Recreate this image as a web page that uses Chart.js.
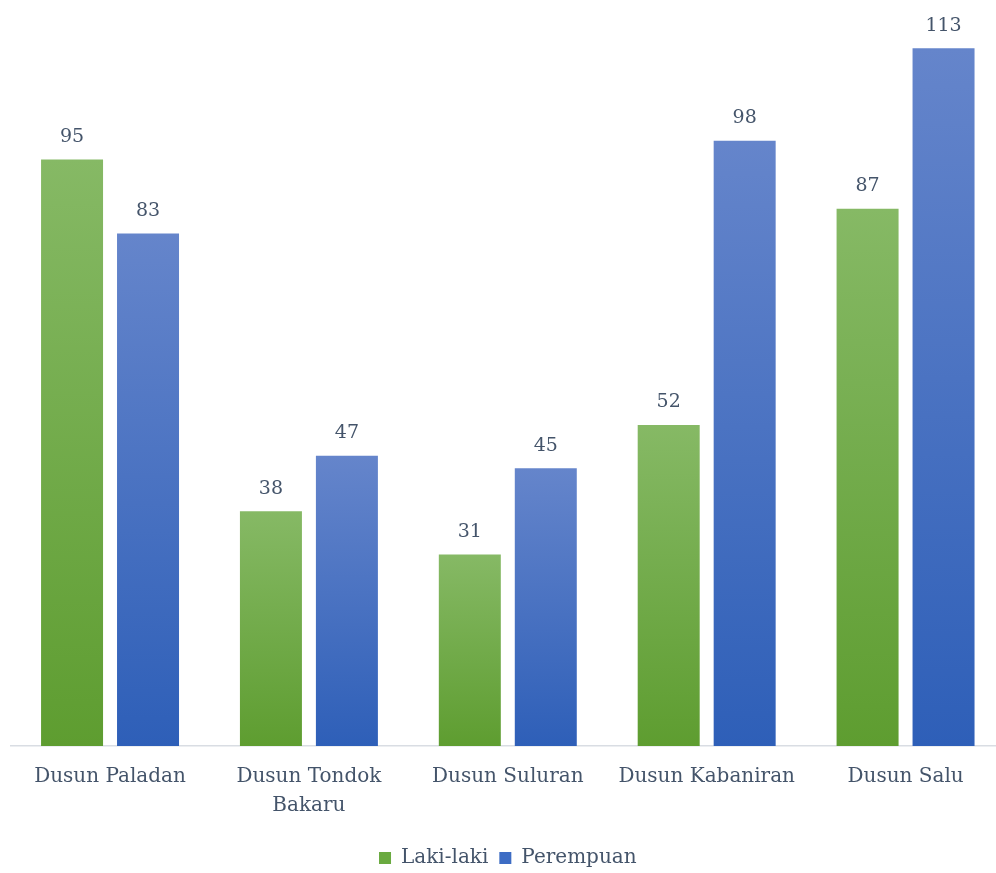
<!DOCTYPE html>
<html>
<head>
<meta charset="utf-8">
<script src="https://cdn.jsdelivr.net/npm/chart.js@4/dist/chart.umd.min.js"></script>
<style>
html,body{margin:0;padding:0;background:#fff;overflow:hidden;}
#wrap{width:996px;height:873px;overflow:hidden;position:relative;}
canvas{display:block;}
</style>
</head>
<body>
<div id="wrap"><canvas id="c" width="1005" height="873"></canvas></div>
<script>
const categories = ["Dusun Paladan", ["Dusun Tondok", "Bakaru"], "Dusun Suluran", "Dusun Kabaniran", "Dusun Salu"];
const seriesNames = ["Laki-laki", "Perempuan"];
const lakiLaki = [95, 38, 31, 52, 87];
const perempuan = [83, 47, 45, 98, 113];

const FONT = "'DejaVu Serif', serif";
const TEXT = "#44546a";

function barGradient(top, bottom) {
  return function(ctx) {
    const chart = ctx.chart;
    const area = chart.chartArea;
    if (!area || ctx.type !== 'data') return bottom;
    const ys = chart.scales.y;
    const yTop = ys.getPixelForValue(ctx.raw);
    const yBase = ys.getPixelForValue(0);
    const g = chart.ctx.createLinearGradient(0, yTop, 0, yBase);
    g.addColorStop(0, top);
    g.addColorStop(1, bottom);
    return g;
  };
}

const valueLabels = {
  id: 'valueLabels',
  afterDatasetsDraw(chart) {
    const c = chart.ctx;
    c.save();
    c.font = "19px " + FONT;
    c.fillStyle = TEXT;
    c.textAlign = 'center';
    c.textBaseline = 'alphabetic';
    chart.data.datasets.forEach((ds, i) => {
      const meta = chart.getDatasetMeta(i);
      meta.data.forEach((el, j) => {
        c.fillText(String(ds.data[j]), el.x, el.y - 17.5);
      });
    });
    c.restore();
  }
};

new Chart(document.getElementById('c'), {
  type: 'bar',
  data: {
    labels: categories,
    datasets: [
      {
        label: seriesNames[0],
        data: lakiLaki,
        backgroundColor: barGradient('#86b965', '#5e9d30'),
        legendColor: '#6aaa40'
      },
      {
        label: seriesNames[1],
        data: perempuan,
        backgroundColor: barGradient('#6585cb', '#2e5fb8'),
        legendColor: '#3d6cc4'
      }
    ]
  },
  options: {
    responsive: false,
    animation: false,
    devicePixelRatio: 1,
    categoryPercentage: 0.764,
    barPercentage: 0.816,
    layout: { padding: { left: 10.6, right: 0, top: 5, bottom: -5 } },
    scales: {
      x: {
        grid: { display: false, drawTicks: false },
        border: { display: true, color: '#d9dde3', width: 1.5 },
        ticks: {
          color: TEXT,
          font: { family: FONT, size: 20, lineHeight: 1.45 },
          padding: 16.5,
          maxRotation: 0,
          autoSkip: false
        }
      },
      y: {
        display: false,
        min: 0,
        max: 120
      }
    },
    plugins: {
      legend: {
        position: 'bottom',
        labels: {
          color: TEXT,
          font: { family: FONT, size: 20 },
          boxWidth: 12,
          boxHeight: 12,
          padding: 11,
          generateLabels(chart) {
            return chart.data.datasets.map((ds, i) => ({
              text: ds.label,
              fillStyle: ds.legendColor,
              strokeStyle: ds.legendColor,
              lineWidth: 0,
              fontColor: TEXT,
              hidden: false,
              datasetIndex: i
            }));
          }
        }
      },
      tooltip: { enabled: false }
    }
  },
  plugins: [valueLabels]
});
</script>
</body>
</html>
